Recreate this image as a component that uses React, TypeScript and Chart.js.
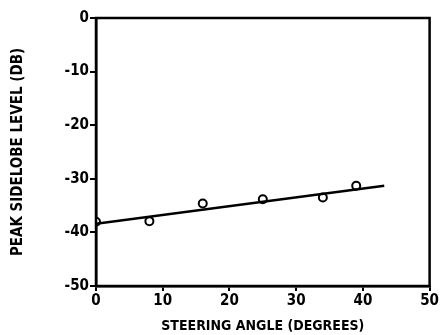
import React, { useEffect, useRef } from "react";
import { Chart, registerables } from "chart.js";

Chart.register(...registerables);

const measuredAngles = [0, 8, 16, 25, 34, 39];
const measuredLevels = [-38.0, -37.9, -34.6, -33.8, -33.5, -31.3];
const fitAngles = [0, 43.2];
const fitLevels = [-38.4, -31.3];
const xTicks = [0, 10, 20, 30, 40, 50];
const yTicks = [0, -10, -20, -30, -40, -50];

const FONT = "'DejaVu Sans Condensed', 'DejaVu Sans', sans-serif";

const boxPlugin = {
  id: "box",
  afterDraw(chart: any) {
    const { ctx, chartArea } = chart;
    ctx.save();
    ctx.strokeStyle = "#000";
    ctx.lineWidth = 2.5;
    ctx.strokeRect(chartArea.left, chartArea.top, chartArea.right - chartArea.left, chartArea.bottom - chartArea.top);
    ctx.restore();
  },
};

export default function App() {
  const ref = useRef<HTMLCanvasElement>(null);
  useEffect(() => {
    if (!ref.current) return;
    const chart = new Chart(ref.current, {
      type: "scatter",
      data: {
        datasets: [
          {
            type: "line",
            data: fitAngles.map((x, i) => ({ x, y: fitLevels[i] })),
            borderColor: "#000",
            borderWidth: 2.5,
            pointRadius: 0,
            fill: false,
          },
          {
            type: "scatter",
            data: measuredAngles.map((x, i) => ({ x, y: measuredLevels[i] })),
            pointStyle: "circle",
            pointRadius: 4,
            pointBackgroundColor: "#fff",
            pointBorderColor: "#000",
            pointBorderWidth: 2,
          },
        ],
      },
      options: {
        animation: false,
        responsive: false,
        devicePixelRatio: 1,
        layout: { padding: { top: 18, right: 10, left: 0, bottom: 0 } },
        plugins: { legend: { display: false }, tooltip: { enabled: false } },
        scales: {
          x: {
            type: "linear",
            min: 0,
            max: 50,
            afterBuildTicks: (s: any) => {
              s.ticks = xTicks.map((v) => ({ value: v }));
            },
            afterFit: (s: any) => {
              s.height = 49;
            },
            grid: { drawOnChartArea: false, tickLength: 5, color: "#000", lineWidth: 2 },
            border: { display: true, color: "#000", width: 2.5 },
            ticks: { color: "#000", font: { family: FONT, weight: "bold", size: 15 }, padding: 1, maxRotation: 0 },
            title: {
              display: true,
              text: "STEERING ANGLE (DEGREES)",
              color: "#000",
              font: { family: FONT, weight: "bold", size: 14 },
              padding: { top: 2, bottom: 0 },
            },
          },
          y: {
            type: "linear",
            min: -50,
            max: 0,
            afterBuildTicks: (s: any) => {
              s.ticks = yTicks.map((v) => ({ value: v }));
            },
            afterFit: (s: any) => {
              s.width = 96;
            },
            grid: { drawOnChartArea: false, tickLength: 6, color: "#000", lineWidth: 2 },
            border: { display: true, color: "#000", width: 2.5 },
            ticks: { color: "#000", font: { family: FONT, weight: "bold", size: 15 }, padding: 1 },
            title: {
              display: true,
              text: "PEAK SIDELOBE LEVEL (DB)",
              color: "#000",
              font: { family: FONT, weight: "bold", size: 15 },
              padding: { top: 9, bottom: 0 },
            },
          },
        },
      },
      plugins: [boxPlugin],
    });
    return () => chart.destroy();
  }, []);
  return (
    <div style={{ position: "fixed", left: 0, top: 0, width: 440, height: 335, background: "#fff" }}>
      <canvas ref={ref} width={440} height={335} style={{ display: "block" }} />
    </div>
  );
}
